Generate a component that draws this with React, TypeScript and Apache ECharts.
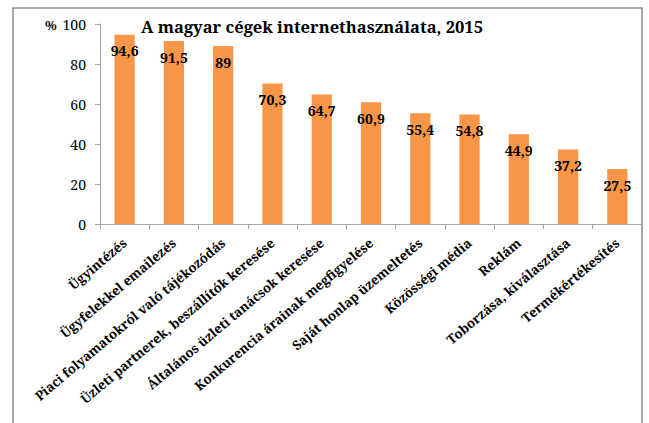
import React, { useEffect, useRef } from "react";
import * as echarts from "echarts";

const categories = [
  "Ügyintézés",
  "Ügyfelekkel emailezés",
  "Piaci folyamatokról való tájékozódás",
  "Üzleti partnerek, beszállítók keresése",
  "Általános üzleti tanácsok keresése",
  "Konkurencia árainak megfigyelése",
  "Saját honlap üzemeltetés",
  "Közösségi média",
  "Reklám",
  "Toborzása, kiválasztása",
  "Termékértékesítés",
];
const values = [94.6, 91.5, 89, 70.3, 64.7, 60.9, 55.4, 54.8, 44.9, 37.2, 27.5];
const yTicks = [0, 20, 40, 60, 80, 100];
const title = "A magyar cégek internethasználata, 2015";
const unit = "%";

const SERIF = "Noto Serif";

export default function App() {
  const ref = useRef<HTMLDivElement>(null);
  useEffect(() => {
    if (!ref.current) return;
    const chart = echarts.init(ref.current, undefined, { renderer: "svg" });
    chart.setOption({
      animation: false,
      backgroundColor: "#ffffff",
      textStyle: { fontFamily: SERIF },
      grid: { left: 100, right: 7, top: 24, bottom: 199, containLabel: false },
      title: {
        text: title,
        left: 307,
        top: 13,
        textAlign: "center",
        textStyle: { fontFamily: SERIF, fontWeight: "bold", fontSize: 16.5, color: "#000" },
      },
      graphic: [
        {
          type: "rect",
          shape: { x: 13, y: 8, width: 629, height: 430 },
          style: { fill: "none", stroke: "#8c8c8c", lineWidth: 1.5 },
          silent: true,
        },
        {
          type: "text",
          x: 51,
          y: 25,
          style: {
            text: unit,
            fontFamily: SERIF,
            fontWeight: "bold",
            fontSize: 13,
            fill: "#000",
            align: "center",
            verticalAlign: "middle",
          },
        },
      ],
      xAxis: {
        type: "category",
        data: categories,
        boundaryGap: true,
        axisLine: { show: true, lineStyle: { color: "#a6a6a6", width: 1 } },
        axisTick: { show: true, alignWithLabel: false, length: 5, lineStyle: { color: "#a6a6a6" } },
        axisLabel: {
          interval: 0,
          rotate: 40,
          margin: 17,
          fontFamily: SERIF,
          fontWeight: "bold",
          fontSize: 13,
          color: "#000",
        },
      },
      yAxis: {
        type: "value",
        min: yTicks[0],
        max: yTicks[yTicks.length - 1],
        interval: 20,
        splitLine: { show: false },
        axisLine: { show: true, lineStyle: { color: "#a6a6a6", width: 1 } },
        axisTick: { show: true, length: 5, lineStyle: { color: "#a6a6a6" } },
        axisLabel: {
          margin: 14,
          fontFamily: SERIF,
          fontSize: 14,
          color: "#000",
        },
      },
      series: [
        {
          type: "bar",
          data: values,
          barWidth: "41%",
          itemStyle: { color: "#F79646" },
          label: {
            show: true,
            position: "insideTop",
            distance: 9,
            fontFamily: SERIF,
            fontWeight: "bold",
            fontSize: 14,
            color: "#000",
            formatter: (p: any) => String(p.value).replace(".", ","),
          },
        },
      ],
    });
    return () => chart.dispose();
  }, []);
  return (
    <div
      ref={ref}
      style={{ position: "fixed", left: 0, top: 0, width: 649, height: 423 }}
    />
  );
}
